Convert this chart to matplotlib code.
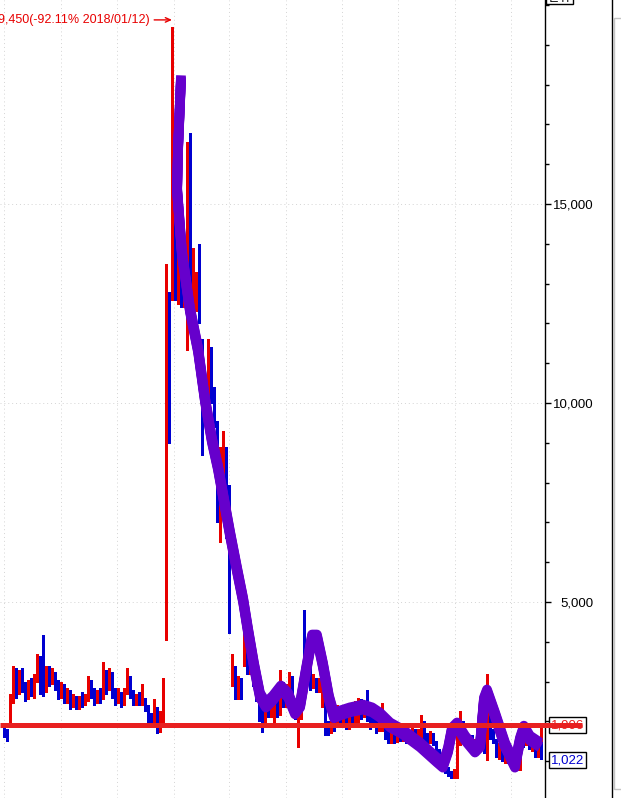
import matplotlib
matplotlib.use('Agg')
import matplotlib.pyplot as plt
from matplotlib import transforms
from matplotlib.patches import Rectangle
from matplotlib.lines import Line2D
import numpy as np

plt.rcParams['font.family'] = ['Liberation Sans', 'DejaVu Sans']

# daily candles (price, won)
opens = [1800, 1750, 1960, 2540, 3200, 2800, 3200, 2900, 2600, 2950,
         2700, 3050, 3500, 3300, 2800, 3300, 3000, 3200, 2950, 2700,
         2900, 2550, 2700, 2400, 2600, 2350, 2550, 2450, 2550, 3000,
         2750, 2500, 2750, 2600, 3250, 2850, 3200, 2750, 2500, 2700,
         2450, 2750, 3100, 2700, 2450, 2650, 2450, 2550, 2300, 2100,
         1950, 2300, 1850, 2050,
         9800, 12300, 12900, 16500, 12700, 13900, 12600, 12500, 14500, 12300,
         12500, 13400, 11500, 10500, 9800, 11200, 10300, 9500, 6600, 8000,
         8800, 7900,
         3100, 3300, 2700, 3000, 3500, 4200, 3300, 3800, 3000, 2700,
         2400, 2050, 2400, 2150, 2200, 2500, 2200, 2900, 2400, 2600,
         3100, 2500, 1700, 2100, 3600, 3100, 3300, 2900, 3050, 2800,
         2400, 2900, 1950, 1750, 1950, 1950, 2300, 2000, 2200, 1850,
         2100, 1950, 2050, 2400, 2150, 2450, 2100, 2100, 1950, 1800,
         1800, 2000, 1700, 1500, 1700, 1500, 1700, 1550, 1700, 1500,
         1550, 1750, 1550, 1600, 1950, 1650, 1500, 1650, 1450, 1250,
         900, 1000, 800, 700, 650, 700, 1500, 1900, 1650, 1450,
         1600, 1350, 1500, 1350, 1600, 1050, 2100, 1700, 1500, 1150,
         1300, 1050, 1150, 1000, 1050, 850, 800, 1750, 1450, 1650,
         1350, 1550, 1150]
closes = [1700, 1620, 2540, 3100, 2700, 3200, 2850, 2550, 2950, 2700,
          3100, 3600, 3000, 2750, 3300, 3000, 3250, 2900, 2650, 2900,
          2600, 2750, 2400, 2600, 2350, 2550, 2400, 2650, 3000, 2700,
          2500, 2750, 2550, 3300, 2800, 3200, 2700, 2500, 2700, 2400,
          2750, 3200, 2700, 2450, 2650, 2450, 2600, 2300, 2050, 1900,
          2400, 1850, 2100, 2850,
          12500, 9600, 18000, 13000, 14900, 12600, 13600, 13200, 12800, 13600,
          13200, 12200, 10500, 9800, 10500, 10200, 9500, 8000, 8800, 9000,
          6900, 6500,
          3650, 2700, 3000, 2650, 4400, 3300, 3900, 3000, 2600, 2100,
          2100, 2450, 2150, 2500, 2550, 2150, 2900, 2400, 2800, 3200,
          2500, 2100, 2100, 2500, 3000, 3550, 2900, 3100, 2800, 3000,
          3400, 1800, 1800, 1950, 1800, 2350, 2000, 2200, 1850, 2100,
          1900, 2450, 2350, 2100, 2400, 2050, 1850, 1900, 1750, 2000,
          2250, 1650, 1500, 1750, 1500, 1700, 1550, 1700, 1500, 1650,
          1800, 1500, 1750, 2050, 1600, 1500, 1700, 1450, 1200, 1000,
          1150, 750, 680, 600, 750, 1900, 2100, 1650, 1450, 1600,
          1350, 1500, 1350, 1650, 1250, 2900, 1700, 1500, 1200, 1400,
          1050, 1200, 1000, 1150, 850, 1050, 1800, 1450, 1700, 1350,
          1550, 1150, 1500]
highs = [1850, 1800, 2700, 3400, 3350, 3300, 3350, 3000, 3050, 3100,
         3200, 3700, 3650, 4170, 3400, 3400, 3350, 3250, 3050, 3000,
         2950, 2850, 2800, 2700, 2650, 2650, 2750, 2700, 3150, 3050,
         2850, 2800, 2850, 3500, 3300, 3350, 3250, 2850, 2850, 2750,
         2850, 3350, 3150, 2800, 2700, 2750, 2950, 2600, 2400, 2200,
         2550, 2350, 2250, 3100,
         13500, 12800, 19450, 16540, 15600, 14200, 14000, 16560, 16790, 13900,
         13300, 14000, 11600, 10600, 11600, 11400, 10400, 9550, 8900, 9300,
         8900, 7950,
         3700, 3400, 3150, 3100, 4420, 4300, 4050, 3850, 3050, 2800,
         2550, 2500, 2500, 2550, 2600, 2600, 3300, 3000, 2950, 3250,
         3150, 2550, 2150, 2800, 4800, 3700, 3400, 3200, 3100, 3100,
         3550, 2900, 2000, 2000, 2050, 2400, 2350, 2300, 2250, 2200,
         2150, 2500, 2600, 2550, 2500, 2800, 2200, 2200, 2050, 2050,
         2450, 2050, 1750, 1800, 1750, 1750, 1800, 1750, 1750, 1700,
         1850, 1800, 1800, 2150, 2000, 1700, 1750, 1700, 1500, 1300,
         1200, 1050, 850, 750, 800, 1950, 2250, 2000, 1700, 1650,
         1650, 1550, 1700, 1700, 1650, 3200, 2400, 1800, 1550, 1450,
         1350, 1250, 1200, 1200, 1100, 1100, 1850, 1800, 1750, 1700,
         1600, 1600, 1550]
lows = [1620, 1500, 1900, 2450, 2600, 2700, 2750, 2500, 2550, 2650,
        2600, 3000, 2700, 2650, 2750, 2900, 2950, 2800, 2550, 2600,
        2450, 2450, 2300, 2350, 2300, 2300, 2350, 2400, 2500, 2600,
        2400, 2450, 2450, 2550, 2700, 2800, 2600, 2400, 2450, 2350,
        2400, 2700, 2600, 2400, 2400, 2400, 2400, 2250, 1950, 1850,
        1850, 1700, 1730, 1950,
        4050, 9000, 12600, 12600, 12500, 12400, 12400, 11330, 12500, 12200,
        12300, 12000, 8700, 9600, 9700, 10000, 9400, 7000, 6500, 7500,
        6600, 4220,
        2900, 2550, 2550, 2550, 3400, 3200, 3200, 2900, 2500, 2000,
        1730, 1980, 2100, 2100, 1850, 2100, 2150, 2350, 2350, 2500,
        2400, 2050, 1360, 2050, 2950, 3000, 2800, 2850, 2750, 2750,
        2350, 1650, 1650, 1700, 1750, 1900, 1900, 1950, 1800, 1800,
        1850, 1900, 1950, 2050, 2100, 2000, 1800, 1850, 1700, 1750,
        1750, 1550, 1450, 1450, 1450, 1480, 1500, 1500, 1450, 1450,
        1500, 1450, 1500, 1550, 1500, 1450, 1450, 1400, 1100, 950,
        800, 700, 620, 580, 580, 580, 1400, 1600, 1400, 1400,
        1300, 1300, 1300, 1300, 1200, 1030, 1550, 1450, 1100, 1050,
        1000, 950, 950, 900, 800, 780, 780, 1350, 1400, 1300,
        1250, 1100, 1100]

# current bar at the right edge (low / split / high)
cur_bar = [1022, 1480, 1860]

# thick purple trend line drawn over the chart (index, price)
trend_x = [59.0, 58.0, 57.7, 59.3, 62.0, 64.7, 67.0, 69.3, 71.3, 73.3,
           75.3, 77.7, 79.7, 81.3, 83.3, 85.3, 87.3, 89.7, 92.3, 94.7,
           97.0, 98.7, 100.7, 102.7, 104.3, 106.3, 108.3, 110.0, 112.0, 115.3,
           119.7, 122.7, 125.3, 128.7, 133.0, 138.7, 144.3, 146.3, 148.0, 149.3,
           151.0, 153.7, 157.0, 158.7, 160.0, 161.0, 163.7, 167.0, 170.3, 172.0,
           173.3, 175.3, 178.7]
trend_y = [18170, 16360, 15350, 13770, 12340, 11330, 10080, 9070, 8390, 7560,
           6730, 5800, 5050, 4300, 3420, 2660, 2410, 2590, 2840, 2660,
           2240, 2410, 3290, 4120, 4120, 3420, 2590, 2140, 2210, 2290,
           2360, 2290, 2160, 1910, 1730, 1410, 1030, 900, 1280, 1780,
           1910, 1580, 1280, 1410, 2540, 2740, 2160, 1410, 900, 1530,
           1830, 1580, 1410]

level_price = 1906
last_price = 1022
peak_idx = 56
peak_label = '19,450(-92.11% 2018/01/12)'
grid_idx = [0, 19, 37.7, 56.7, 75, 94, 112.7, 131.3, 150.3, 169]

RED = '#e80000'
BLUE = '#0000d0'
PURPLE = '#6600cc'
LINE_RED = '#e82020'
FS = 9.5

fig = plt.figure(figsize=(6.21, 7.98), dpi=100)
ax = fig.add_axes([0, 0, 545 / 621, 1])

x = np.arange(len(opens))
o = np.array(opens)
c = np.array(closes)
up = c >= o
cols = np.where(up, RED, BLUE)

ax.vlines(x, lows, highs, colors=cols, lw=0.75, antialiased=False, zorder=2)
ax.bar(x, np.abs(c - o), bottom=np.minimum(o, c), width=0.5, color=cols,
       linewidth=0, antialiased=False, zorder=2)

# split bar at the right edge
xl = len(opens) + 0.3
ax.bar(xl, cur_bar[1] - cur_bar[0], bottom=cur_bar[0], width=1.0,
       color=BLUE, linewidth=0, antialiased=False, zorder=2)
ax.bar(xl, cur_bar[2] - cur_bar[1], bottom=cur_bar[1], width=1.0,
       color=RED, linewidth=0, antialiased=False, zorder=2)

# purple line, drawn with a tall brush
for dy in [-2.5, -1.25, 0, 1.25, 2.5]:
    tr = transforms.offset_copy(ax.transData, fig=fig, x=0, y=dy, units='dots')
    ax.plot(trend_x, trend_y, color=PURPLE, lw=7.0, transform=tr,
            solid_capstyle='butt', solid_joinstyle='round', zorder=3)

# horizontal level line
blend = transforms.blended_transform_factory(ax.transAxes, ax.transData)
ax.plot([0, 582 / 545], [level_price, level_price], transform=blend,
        color=LINE_RED, lw=3.6, solid_capstyle='butt', clip_on=False, zorder=7)

lbl_tr = transforms.offset_copy(blend, fig=fig, x=6, y=0, units='dots')
box = dict(boxstyle='square,pad=0.15', fc='white', ec='black', lw=1)
ax.text(1.0, level_price, '{:,}'.format(level_price), transform=lbl_tr,
        ha='left', va='center', color=LINE_RED, fontsize=FS, bbox=box,
        clip_on=False, zorder=6)
ax.text(1.0, last_price, '{:,}'.format(last_price), transform=lbl_tr,
        ha='left', va='center', color=BLUE, fontsize=FS, bbox=box,
        clip_on=False, zorder=6)

# peak annotation
peak_tr = transforms.offset_copy(ax.transData, fig=fig, x=0, y=7, units='dots')
ax.annotate(peak_label, xy=(peak_idx, max(highs)), xycoords=peak_tr,
            xytext=(-22, 0), textcoords='offset pixels', ha='right', va='center',
            color=RED, fontsize=9,
            arrowprops=dict(arrowstyle='->,head_length=0.4,head_width=0.18',
                            color=RED, lw=1, shrinkA=1, shrinkB=0))

ax.set_xlim(-4 / 3, 541 / 3)
ax.set_ylim(75, 20126)

# axes styling
for s in ['left', 'top', 'bottom']:
    ax.spines[s].set_visible(False)
ax.spines['right'].set_linewidth(1.0)
ax.yaxis.tick_right()
ax.set_yticks([5000, 10000, 15000])
ax.set_yticks(np.arange(1000, 20001, 1000), minor=True)
ax.yaxis.set_major_formatter(matplotlib.ticker.FuncFormatter(lambda v, p: '{:,.0f}'.format(v)))
ax.tick_params(axis='y', which='major', length=4, width=1, pad=31, labelsize=FS)
ax.tick_params(axis='y', which='minor', length=3, width=1)
for t in ax.get_yticklabels():
    t.set_horizontalalignment('right')
ax.set_xticks(grid_idx)
ax.tick_params(axis='x', which='both', length=0, labelbottom=False)
ax.grid(True, which='major', color='#d4d4d4', lw=0.7, linestyle=(0, (1, 3)))
ax.set_axisbelow(True)

# right-hand panel frame
fig.add_artist(Line2D([612 / 621, 612 / 621], [0, 1], transform=fig.transFigure,
                      color='black', lw=1))
fig.add_artist(Rectangle((614 / 621, 9 / 798), 20 / 621, (789 - 18) / 798,
                         transform=fig.transFigure, fill=False, ec='#c4c4c4', lw=1))
fig.add_artist(Rectangle((546 / 621, 794 / 798), 27 / 621, 12 / 798,
                         transform=fig.transFigure, fill=False, ec='black', lw=1))
fig.text(559.5 / 621, 801 / 798, '단위', ha='center', va='center', fontsize=9,
         family=['Noto Sans CJK KR', 'DejaVu Sans'])

fig.savefig('out.png', dpi=100)
